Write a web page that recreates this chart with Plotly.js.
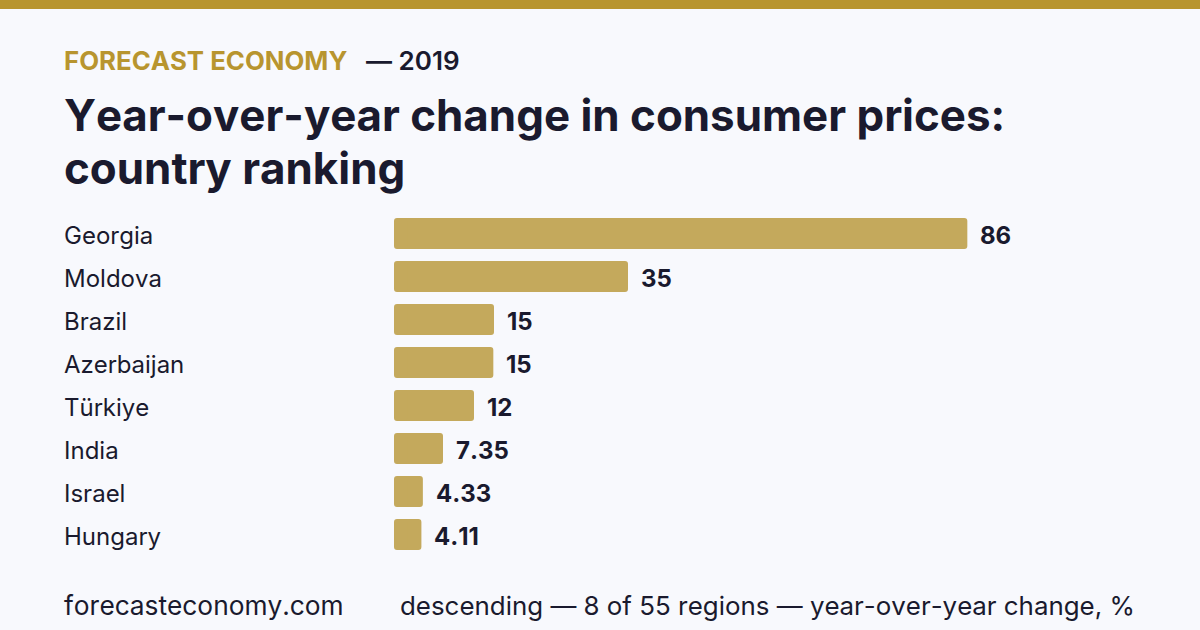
<!DOCTYPE html>
<html><head><meta charset="utf-8">
<script src="https://cdn.plot.ly/plotly-3.0.1.min.js"></script>
<style>html,body{margin:0;padding:0;background:#f8f9fd;overflow:hidden}
svg text{font-kerning:none;font-feature-settings:"kern" 0,"calt" 0}</style></head>
<body><div id="chart" style="width:1200px;height:630px"></div>
<script>
const categories = ["Georgia","Moldova","Brazil","Azerbaijan","Türkiye","India","Israel","Hungary"];
const values = [86,35.1,15,14.9,12,7.35,4.33,4.11];
const valueLabels = ["86","35","15","15","12","7.35","4.33","4.11"];
const W=1200,H=630,L=394,R=64,T=212,B=74;
const INK="#1a1a2e",GOLD="#b8952f",BAR="#c4a95c",BG="#f8f9fd";
const font="Inter, sans-serif";
const plotW=W-L-R, plotH=H-T-B;
const fx=x=>(x-L)/plotW, fy=y=>1-(y-T)/plotH;
const note=(text,x,y,size,weight,color,anchor)=>({text,xref:"paper",yref:"paper",x:fx(x),y:fy(y),xanchor:anchor||"left",yanchor:"middle",showarrow:false,borderpad:0,borderwidth:0,font:{family:font,size,weight,color}});
const ann=[];
categories.forEach((c,i)=>{
  ann.push({text:c,xref:"paper",yref:"y",x:fx(64),y:c,xanchor:"left",yanchor:"middle",showarrow:false,borderpad:0,borderwidth:0,font:{family:font,size:24,color:INK},yshift:-2});
  ann.push({text:valueLabels[i],xref:"x",yref:"y",x:values[i],y:c,xanchor:"left",yanchor:"middle",xshift:13,yshift:-2,showarrow:false,borderpad:0,borderwidth:0,font:{family:font,size:24,weight:700,color:INK}});
});
ann.push(note("FORECAST ECONOMY",64,61,25.8,700,GOLD));
ann.push(note("— 2019",366,61,26,600,INK));
ann.push(note("country ranking",64,168,43.9,700,INK));
ann.push(note("forecasteconomy.com",64,605,26.3,400,INK));
ann.push(note("descending — 8 of 55 regions — year-over-year change, %",1135,605,25.9,400,INK,"right"));
// Each bar is drawn as a long piece that rounds its right end and a short overlapping
// piece running back to zero that rounds its left end.
const overlap=1, capEnd=2;
const data=[
 {type:"bar",orientation:"h",y:categories,x:values.map(v=>v-overlap),base:values.map(()=>overlap),marker:{color:BAR,cornerradius:3,line:{width:0}},hoverinfo:"skip"},
 {type:"bar",orientation:"h",y:categories,x:values.map(()=>-capEnd),base:values.map(()=>capEnd),marker:{color:BAR,cornerradius:3,line:{width:0}},hoverinfo:"skip"}
];
const layout={width:W,height:H,paper_bgcolor:BG,plot_bgcolor:BG,showlegend:false,barmode:"overlay",
 margin:{l:L,r:R,t:T,b:B,pad:0},bargap:0.279,
 title:{text:"Year-over-year change in consumer prices:",x:64/W,xanchor:"left",xref:"container",yref:"container",y:1-116/H,yanchor:"middle",font:{family:font,size:43.9,weight:700,color:INK},automargin:false,pad:{l:0,r:0,t:0,b:0}},
 xaxis:{range:[0,111.3],visible:false,fixedrange:true},
 yaxis:{type:"category",categoryorder:"array",categoryarray:categories,autorange:"reversed",showticklabels:false,showgrid:false,zeroline:false,showline:false,ticks:"",fixedrange:true},
 shapes:[{type:"rect",xref:"paper",yref:"paper",x0:fx(0),x1:fx(W),y0:fy(0),y1:fy(9),fillcolor:GOLD,line:{width:0},layer:"above"}],
 annotations:ann};
Plotly.newPlot("chart",data,layout,{displayModeBar:false,staticPlot:true});
</script></body></html>
